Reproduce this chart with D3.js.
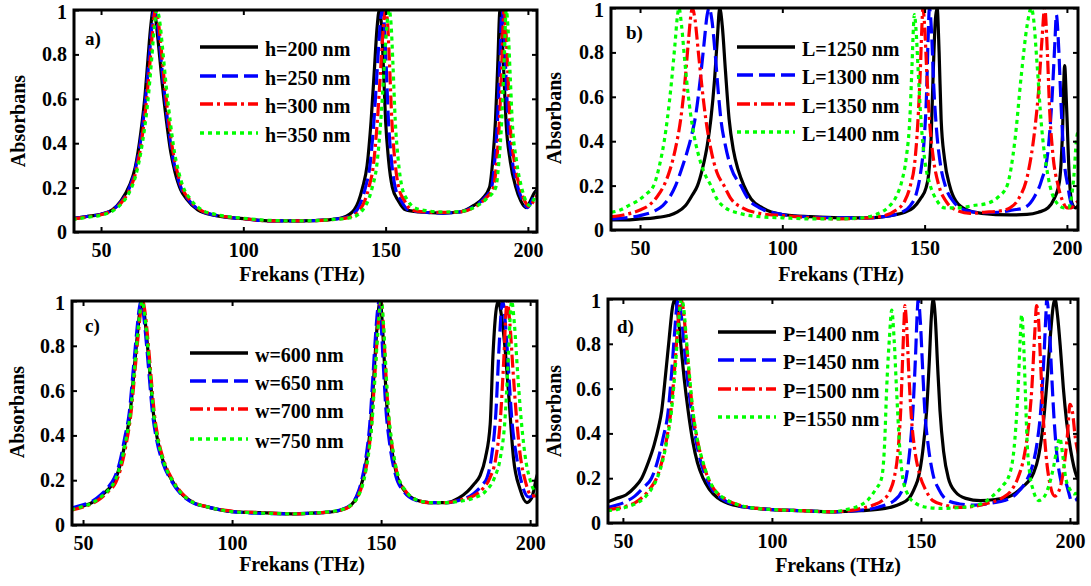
<!DOCTYPE html>
<html>
<head>
<meta charset="utf-8">
<script src="https://cdn.jsdelivr.net/npm/d3@7"></script>
<style>
  body { margin: 0; background: #fff; }
  svg { display: block; font-family: "Liberation Serif", "Times New Roman", serif; font-weight: bold; }
</style>
</head>
<body>
<div id="chart"></div>
<script>
// Tick values / labels
var xTicks = [50, 100, 150, 200];
var yTicks = [0, 0.2, 0.4, 0.6, 0.8, 1];

// Legend labels per panel
var hNames = ["h=200 nm", "h=250 nm", "h=300 nm", "h=350 nm"];
var lNames = ["L=1250 nm", "L=1300 nm", "L=1350 nm", "L=1400 nm"];
var wNames = ["w=600 nm", "w=650 nm", "w=700 nm", "w=750 nm"];
var pNames = ["P=1400 nm", "P=1450 nm", "P=1500 nm", "P=1550 nm"];

// a) thickness h  [THz, absorbance]
var h200 = [[40,0.06],[45,0.07],[50,0.08],[54,0.1],[57,0.14],[60,0.21],[62,0.29],[64,0.45],[65.5,0.62],[66.5,0.78],[67.5,0.93],[68.3,1],[69.2,0.96],[70.3,0.83],[71.5,0.67],[73,0.5],[74.5,0.36],[76,0.27],[78,0.19],[80,0.15],[84,0.1],[90,0.075],[100,0.06],[110,0.05],[120,0.05],[130,0.055],[135,0.065],[139,0.1],[141.9,0.2],[143.5,0.3],[144.9,0.5],[146,0.72],[147,0.92],[147.8,1],[148.5,0.94],[149.2,0.75],[150,0.5],[151,0.33],[152.4,0.2],[154.5,0.14],[157,0.1],[162,0.09],[170,0.085],[176,0.09],[181,0.12],[184,0.15],[186.5,0.2],[187.7,0.33],[188.6,0.5],[189.4,0.75],[190.2,1],[190.9,0.9],[191.6,0.7],[192.3,0.5],[193.8,0.32],[195.8,0.2],[197.5,0.14],[199.3,0.11],[200.5,0.13],[202.2,0.175],[204,0.2]];
var h250 = [[40,0.06],[45,0.07],[50,0.08],[54,0.1],[57,0.135],[60,0.2],[62,0.28],[64,0.42],[65.8,0.62],[66.9,0.78],[67.9,0.93],[68.7,1],[69.6,0.96],[70.7,0.83],[71.9,0.67],[73.4,0.5],[74.9,0.36],[76.4,0.27],[78.4,0.19],[80.4,0.15],[84.4,0.1],[90,0.076],[100,0.06],[110,0.05],[120,0.05],[130,0.055],[136,0.065],[140,0.1],[142.9,0.2],[144.5,0.3],[145.9,0.5],[147,0.72],[148,0.92],[148.8,1],[149.5,0.94],[150.2,0.75],[151,0.5],[152,0.33],[153.4,0.2],[155.5,0.14],[158,0.1],[163,0.09],[170,0.085],[176,0.09],[181,0.115],[184.5,0.15],[187.2,0.2],[188.4,0.33],[189.3,0.5],[190.1,0.75],[190.9,1],[191.6,0.9],[192.3,0.7],[193,0.5],[194.5,0.32],[196.5,0.2],[198.2,0.14],[199.8,0.11],[201,0.13],[202.5,0.17],[204,0.19]];
var h300 = [[40,0.058],[45,0.068],[50,0.078],[54,0.097],[57,0.13],[60,0.19],[62,0.26],[64,0.39],[66.2,0.62],[67.3,0.78],[68.3,0.93],[69.1,1],[70,0.96],[71.1,0.83],[72.3,0.67],[73.8,0.5],[75.3,0.36],[76.8,0.27],[78.8,0.19],[80.8,0.15],[84.8,0.1],[90,0.078],[100,0.06],[110,0.05],[120,0.05],[130,0.055],[137,0.065],[141,0.1],[144.1,0.2],[145.7,0.3],[147.1,0.5],[148.2,0.72],[149.2,0.92],[150,1],[150.7,0.94],[151.4,0.75],[152.2,0.5],[153.2,0.33],[154.6,0.2],[156.7,0.14],[159,0.1],[164,0.09],[170,0.088],[176,0.09],[181,0.11],[185,0.15],[187.9,0.2],[189.1,0.33],[190,0.5],[190.8,0.75],[191.6,1],[192.3,0.9],[193,0.7],[193.7,0.5],[195.2,0.32],[197.2,0.2],[198.9,0.14],[200.4,0.115],[201.5,0.13],[203,0.16],[204,0.18]];
var h350 = [[40,0.056],[45,0.066],[50,0.076],[54,0.094],[57,0.125],[60,0.18],[62,0.245],[64,0.36],[66.7,0.62],[67.8,0.78],[68.8,0.93],[69.6,1],[70.5,0.96],[71.6,0.83],[72.8,0.67],[74.3,0.5],[75.8,0.36],[77.3,0.27],[79.3,0.19],[81.3,0.15],[85.3,0.1],[90,0.08],[100,0.062],[110,0.052],[120,0.05],[130,0.055],[138,0.065],[142,0.1],[145.3,0.2],[146.9,0.3],[148.3,0.5],[149.4,0.72],[150.4,0.92],[151.2,1],[151.9,0.94],[152.6,0.75],[153.4,0.5],[154.4,0.33],[155.8,0.2],[157.9,0.14],[160,0.11],[165,0.095],[170,0.09],[176,0.092],[181,0.11],[185.5,0.15],[188.7,0.2],[189.9,0.33],[190.8,0.5],[191.6,0.75],[192.4,1],[193.1,0.9],[193.8,0.7],[194.5,0.5],[196,0.32],[197.8,0.2],[199.3,0.14],[200.6,0.12],[201.8,0.14],[203,0.17],[204,0.18]];

// b) length L
var l1250 = [[40,0.045],[45,0.045],[50,0.05],[55,0.055],[60,0.065],[63,0.08],[66,0.11],[68.5,0.16],[70.2,0.2],[72,0.28],[73.6,0.38],[74.9,0.5],[76.2,0.68],[77.2,0.87],[78,1],[78.9,0.92],[80,0.72],[81.3,0.5],[82.8,0.36],[84.5,0.27],[86.5,0.2],[89,0.14],[93,0.1],[100,0.07],[110,0.06],[120,0.055],[130,0.055],[138,0.065],[143,0.08],[146,0.1],[148.5,0.14],[150.5,0.19],[151.5,0.26],[152.3,0.42],[153,0.7],[153.8,0.95],[154.4,1],[155.1,0.8],[155.8,0.5],[157,0.32],[158.8,0.2],[161,0.13],[165,0.09],[170,0.075],[180,0.068],[186,0.07],[190,0.08],[193.4,0.1],[195.5,0.14],[197.4,0.22],[198.4,0.42],[199.2,0.74],[199.9,0.55],[200.8,0.25],[201.8,0.12],[203,0.1],[204,0.11]];
var l1300 = [[40,0.05],[45,0.055],[50,0.065],[55,0.085],[58,0.11],[60.5,0.15],[62.5,0.2],[64.5,0.27],[66.5,0.35],[68,0.42],[69.6,0.52],[71,0.66],[72.5,0.84],[73.6,0.97],[74.3,1],[75.2,0.95],[76.5,0.78],[77.5,0.62],[78.4,0.5],[80,0.38],[82,0.28],[85.4,0.2],[88,0.14],[92,0.1],[100,0.07],[110,0.058],[120,0.055],[130,0.055],[138,0.065],[142,0.08],[145,0.11],[147,0.16],[148.5,0.25],[149.8,0.4],[150.7,0.62],[151.2,0.85],[151.7,1],[152.4,0.9],[153.2,0.65],[154.2,0.45],[155.5,0.3],[157.5,0.19],[160,0.13],[164,0.09],[170,0.078],[176,0.08],[181,0.09],[185,0.1],[188.6,0.15],[191,0.22],[193.4,0.36],[194.8,0.6],[195.8,0.85],[196.3,0.97],[197,0.85],[198,0.55],[199,0.32],[200.3,0.2],[201.5,0.12],[203,0.1],[204,0.1]];
var l1350 = [[40,0.06],[45,0.07],[50,0.09],[53,0.11],[56,0.15],[58.4,0.2],[60.5,0.27],[62.5,0.37],[64.3,0.5],[65.8,0.67],[67,0.85],[68,0.98],[68.4,1],[69.3,0.95],[70.5,0.8],[71.8,0.64],[73.1,0.5],[74.8,0.37],[77,0.26],[79.5,0.2],[82,0.14],[86,0.1],[92,0.075],[100,0.065],[110,0.055],[120,0.05],[130,0.055],[136,0.065],[140,0.09],[143,0.13],[145,0.2],[146.5,0.3],[147.6,0.48],[148.5,0.72],[149,0.9],[149.4,1],[150,0.92],[150.8,0.7],[151.8,0.48],[153,0.33],[155,0.2],[157.5,0.13],[161,0.09],[166,0.075],[171,0.08],[176,0.085],[180,0.1],[183,0.14],[186.4,0.26],[188.6,0.44],[190,0.62],[191.2,0.85],[192.2,1],[193.2,0.78],[193.9,0.55],[195,0.35],[196.9,0.2],[198.5,0.13],[200,0.1],[201.5,0.1],[203,0.12],[204,0.13]];
var l1400 = [[40,0.08],[43,0.09],[46,0.11],[49,0.13],[52,0.16],[54.8,0.2],[57,0.3],[58.5,0.4],[59.6,0.5],[61,0.66],[62.3,0.84],[63.2,0.97],[63.7,1],[64.6,0.92],[65.8,0.75],[67,0.6],[68.5,0.46],[70.5,0.34],[72.5,0.26],[74.9,0.2],[77,0.14],[80,0.1],[85,0.075],[92,0.06],[100,0.055],[110,0.05],[120,0.05],[128,0.055],[133,0.07],[137,0.1],[140,0.15],[142,0.22],[143.6,0.33],[144.8,0.5],[145.6,0.75],[146.1,0.92],[146.4,0.97],[147,0.9],[147.8,0.7],[148.8,0.48],[150,0.32],[152,0.2],[154,0.14],[157,0.1],[162,0.1],[167,0.11],[172,0.12],[176,0.15],[179,0.2],[181.7,0.4],[184,0.7],[186,0.92],[187.5,1],[188.3,0.95],[189.5,0.75],[191,0.48],[193.4,0.24],[196,0.13],[199,0.1],[200.5,0.1],[201.5,0.14],[202.5,0.25],[203.3,0.4],[204,0.45]];

// c) width w
var w600 = [[46,0.07],[50,0.085],[53,0.1],[56,0.13],[58.5,0.16],[60.7,0.2],[62.5,0.27],[64.3,0.38],[65.8,0.5],[67.2,0.7],[68.3,0.86],[69.2,0.97],[69.7,1],[70.5,0.95],[71.5,0.82],[72.6,0.65],[73.6,0.5],[75,0.38],[77,0.28],[79.8,0.2],[83,0.14],[87,0.1],[92,0.08],[100,0.06],[110,0.055],[120,0.05],[130,0.055],[136,0.065],[140,0.09],[142,0.13],[143.8,0.2],[145.2,0.3],[146.5,0.45],[147.5,0.65],[148.5,0.86],[149.3,0.98],[149.7,1],[150.4,0.9],[151.2,0.7],[152,0.52],[153.3,0.36],[155.3,0.22],[158,0.15],[162,0.11],[166,0.1],[172,0.1],[176,0.12],[179,0.15],[181,0.18],[183.2,0.22],[185,0.3],[186.6,0.45],[187.5,0.75],[188.5,0.95],[189.3,1],[190.2,0.95],[191.5,0.8],[192.7,0.6],[194.4,0.3],[196.6,0.16],[198.9,0.1],[200.5,0.12],[202.3,0.22],[203.5,0.26]];
var w650 = [[46,0.075],[50,0.09],[53,0.105],[56,0.135],[58.5,0.17],[60.5,0.21],[62.3,0.28],[64,0.39],[65.5,0.5],[66.9,0.7],[68,0.86],[68.9,0.97],[69.4,1],[70.2,0.95],[71.2,0.82],[72.3,0.65],[73.3,0.5],[74.7,0.38],[76.7,0.28],[79.5,0.2],[82.7,0.14],[86.7,0.1],[92,0.08],[100,0.06],[110,0.052],[120,0.05],[130,0.055],[136,0.066],[140,0.092],[141.8,0.13],[143.5,0.2],[144.9,0.3],[146.2,0.45],[147.2,0.65],[148.2,0.86],[149,0.98],[149.3,1],[150,0.9],[150.8,0.7],[151.6,0.52],[152.9,0.36],[154.9,0.22],[157.6,0.15],[161.6,0.11],[166,0.1],[172,0.1],[176,0.11],[181,0.14],[184,0.18],[185.5,0.21],[187,0.3],[188.5,0.5],[189.6,0.8],[190.4,0.97],[190.8,1],[191.7,0.9],[192.8,0.68],[193.8,0.48],[195.5,0.3],[197.3,0.18],[199.5,0.125],[201,0.13],[203.5,0.15]];
var w700 = [[46,0.065],[50,0.08],[53,0.095],[56,0.12],[58.5,0.15],[61,0.19],[62.8,0.26],[64.6,0.37],[66.1,0.5],[67.5,0.7],[68.6,0.86],[69.5,0.97],[70,1],[70.8,0.95],[71.8,0.82],[72.9,0.65],[73.9,0.5],[75.3,0.38],[77.3,0.28],[80.1,0.2],[83.3,0.14],[87.3,0.1],[92,0.08],[100,0.062],[110,0.055],[120,0.05],[130,0.055],[136,0.064],[140,0.088],[142.3,0.13],[144.1,0.2],[145.5,0.3],[146.8,0.45],[147.8,0.65],[148.8,0.86],[149.6,0.98],[150,1],[150.7,0.9],[151.5,0.7],[152.3,0.52],[153.6,0.36],[155.6,0.22],[158.3,0.15],[162.3,0.11],[166,0.1],[172,0.1],[176,0.11],[181,0.13],[184,0.16],[186.5,0.21],[188.5,0.3],[190,0.47],[191.2,0.75],[192,0.97],[192.3,1],[193.2,0.9],[194.2,0.7],[195.3,0.5],[196.6,0.32],[198.5,0.19],[200.5,0.13],[202,0.13],[203.5,0.15]];
var w750 = [[46,0.068],[50,0.083],[53,0.098],[56,0.125],[58.5,0.155],[60.8,0.2],[62.6,0.27],[64.4,0.38],[65.9,0.5],[67.3,0.7],[68.4,0.86],[69.3,0.97],[69.8,1],[70.6,0.95],[71.6,0.82],[72.7,0.65],[73.7,0.5],[75.1,0.38],[77.1,0.28],[79.9,0.2],[83.1,0.14],[87.1,0.1],[92,0.08],[100,0.06],[110,0.053],[120,0.05],[130,0.056],[136,0.066],[140,0.09],[142.4,0.13],[144.2,0.2],[145.6,0.3],[146.9,0.45],[147.9,0.65],[148.9,0.86],[149.7,0.98],[150.1,1],[150.8,0.9],[151.6,0.7],[152.4,0.52],[153.7,0.36],[155.7,0.22],[158.4,0.15],[162.4,0.11],[167,0.1],[172,0.1],[176,0.105],[181,0.12],[185,0.15],[188,0.21],[190,0.3],[191.5,0.46],[192.7,0.75],[193.5,0.97],[193.8,1],[194.7,0.9],[195.7,0.7],[196.8,0.5],[198.2,0.32],[200,0.2],[201.5,0.15],[203.5,0.13]];

// d) period P
var p1400 = [[45,0.095],[48,0.11],[51,0.125],[54,0.16],[56.3,0.2],[58.5,0.27],[60.5,0.35],[62,0.43],[63,0.5],[64.3,0.66],[65.5,0.82],[66.6,0.96],[67.4,1],[68.3,0.95],[69.4,0.8],[70.6,0.64],[71.9,0.5],[73.5,0.36],[75,0.27],[76.9,0.2],[79,0.15],[82,0.11],[87,0.08],[95,0.065],[100,0.06],[110,0.055],[120,0.05],[130,0.055],[138,0.065],[143,0.085],[146,0.11],[148,0.16],[149.1,0.2],[150.6,0.32],[151.9,0.5],[152.8,0.72],[153.5,0.92],[154.1,1],[154.8,0.92],[155.6,0.7],[156.4,0.5],[157.6,0.32],[159.2,0.2],[161.5,0.14],[165,0.11],[170,0.1],[175,0.105],[180,0.12],[184,0.16],[187.7,0.22],[189.5,0.3],[191.1,0.45],[192.4,0.65],[193.4,0.83],[194.4,0.97],[195,1],[195.8,0.93],[196.8,0.78],[197.8,0.6],[198.9,0.45],[200.3,0.32],[202.2,0.21],[203,0.19]];
var p1450 = [[45,0.07],[48,0.08],[51,0.095],[54,0.12],[57,0.16],[59.6,0.2],[61.5,0.27],[63.5,0.38],[65.2,0.5],[66.4,0.68],[67.4,0.86],[68.2,0.98],[68.6,1],[69.4,0.95],[70.5,0.8],[71.7,0.64],[73,0.5],[74.5,0.37],[76,0.28],[78,0.2],[80,0.15],[83,0.11],[88,0.08],[95,0.065],[100,0.06],[110,0.055],[120,0.05],[128,0.055],[134,0.065],[138,0.08],[141,0.1],[143.5,0.14],[145,0.2],[146.3,0.33],[147.3,0.5],[148.2,0.75],[148.8,0.95],[149.1,1],[149.8,0.9],[150.6,0.68],[151.3,0.5],[152.5,0.34],[154,0.22],[156,0.15],[159,0.1],[163,0.085],[168,0.08],[174,0.09],[178,0.1],[182,0.13],[185,0.18],[187.3,0.25],[189,0.36],[190.3,0.52],[191.3,0.75],[192,0.95],[192.2,1],[193,0.9],[193.8,0.68],[194.6,0.48],[195.5,0.32],[196.5,0.22],[197.5,0.17],[198.5,0.18],[199.5,0.14],[200.5,0.1],[201.5,0.1],[203,0.12]];
var p1500 = [[45,0.06],[48,0.065],[51,0.075],[54,0.09],[57,0.12],[59.5,0.16],[61.3,0.2],[63,0.27],[64.6,0.37],[66.1,0.5],[67.3,0.68],[68.3,0.86],[69.1,0.98],[69.5,1],[70.2,0.96],[71.2,0.82],[72.3,0.65],[73.4,0.5],[75,0.37],[76.6,0.28],[78.6,0.2],[80.6,0.15],[84,0.11],[89,0.08],[95,0.065],[100,0.06],[110,0.055],[120,0.05],[126,0.055],[130,0.065],[134,0.08],[137,0.1],[139.5,0.14],[141,0.2],[142.3,0.32],[143.2,0.5],[143.9,0.75],[144.4,0.92],[144.6,0.97],[145.2,0.88],[146,0.65],[146.8,0.47],[148,0.32],[149.5,0.22],[151.5,0.15],[154,0.1],[158,0.08],[163,0.07],[168,0.075],[173,0.09],[177,0.11],[180,0.14],[182.5,0.2],[184.5,0.29],[186,0.42],[187.2,0.6],[188.2,0.85],[188.8,0.97],[189.4,0.92],[190.2,0.7],[191,0.48],[192,0.3],[193.2,0.18],[194.9,0.12],[196.5,0.15],[198,0.25],[199.2,0.4],[200,0.53],[200.8,0.5],[201.8,0.38],[203,0.3]];
var p1550 = [[45,0.055],[48,0.06],[51,0.07],[54,0.085],[57,0.11],[59.5,0.15],[61.5,0.2],[63.2,0.27],[64.8,0.37],[66.3,0.5],[67.5,0.68],[68.5,0.86],[69.3,0.98],[69.7,1],[70.4,0.96],[71.3,0.82],[72.4,0.65],[73.5,0.5],[75,0.37],[76.7,0.28],[78.7,0.2],[80.7,0.15],[84,0.11],[89,0.08],[95,0.065],[100,0.06],[110,0.055],[120,0.05],[125,0.06],[129,0.075],[132,0.1],[134.8,0.15],[136.8,0.2],[137.8,0.35],[138.5,0.6],[139.4,0.82],[140.2,0.95],[141,0.82],[141.8,0.6],[142.8,0.35],[143.9,0.2],[145.5,0.13],[148,0.09],[152,0.07],[157,0.065],[162,0.068],[167,0.075],[171,0.09],[174,0.12],[177,0.16],[179.8,0.22],[181.5,0.37],[182.6,0.6],[183.3,0.82],[183.8,0.93],[184.4,0.82],[185,0.6],[185.6,0.37],[186.5,0.22],[187.6,0.15],[189.5,0.1],[191.5,0.12],[193,0.17],[194.5,0.25],[195.6,0.33],[196.6,0.38],[197.6,0.3],[198.6,0.2],[200,0.15],[201.5,0.13],[203,0.14]];

// line styles shared by all four panels
var colors = ["#000000", "#0000ff", "#ff0000", "#00ff00"];
var dashes = [null, "16,6", "13,4,3,4", "4,4"];

var svg = d3.select("#chart").append("svg")
  .attr("width", 1091)
  .attr("height", 586);

// layout of each sub plot (pixel box + axis range)
var panels = [
  { key: "a", tag: "a)", series: [h200, h250, h300, h350], names: hNames,
    left: 74, right: 537, top: 10, bottom: 232, xDomain: [40.5, 203.2],
    tagPos: [85, 45], legX: 200, legY: [47, 76, 104, 133], yTitleX: 25, yTitleY: 121, xTitleX: 302, xTitleY: 281 },
  { key: "b", tag: "b)", series: [l1250, l1300, l1350, l1400], names: lNames,
    left: 611, right: 1078, top: 8, bottom: 230, xDomain: [39.8, 203.9],
    tagPos: [626, 39], legX: 737, legY: [47, 75, 104, 132], yTitleX: 561, yTitleY: 118, xTitleX: 841, xTitleY: 281 },
  { key: "c", tag: "c)", series: [w600, w650, w700, w750], names: wNames,
    left: 72, right: 537, top: 301, bottom: 525, xDomain: [46.3, 202.3],
    tagPos: [85, 332], legX: 190, legY: [353, 381, 409, 439], yTitleX: 24, yTitleY: 412, xTitleX: 302, xTitleY: 571 },
  { key: "d", tag: "d)", series: [p1400, p1450, p1500, p1550], names: pNames,
    left: 608, right: 1078, top: 299, bottom: 523, xDomain: [45, 202.7],
    tagPos: [617, 333], legX: 718, legY: [332, 360, 389, 417], yTitleX: 561, yTitleY: 411, xTitleX: 838, xTitleY: 572 }
];

panels.forEach(function(p) {
  var x = d3.scaleLinear().domain(p.xDomain).range([p.left, p.right]);
  var y = d3.scaleLinear().domain([0, 1]).range([p.bottom, p.top]);

  var g = svg.append("g");

  // clip curves to the box
  g.append("clipPath").attr("id", "clip-" + p.key)
    .append("rect")
    .attr("x", p.left).attr("y", p.top)
    .attr("width", p.right - p.left).attr("height", p.bottom - p.top);

  var line = d3.line()
    .x(d => x(d[0]))
    .y(d => y(d[1]))
    .curve(d3.curveMonotoneX);

  g.append("g").attr("clip-path", "url(#clip-" + p.key + ")")
    .selectAll("path")
    .data(p.series)
    .enter()
    .append("path")
    .attr("d", line)
    .attr("fill", "none")
    .attr("stroke", (d, i) => colors[i])
    .attr("stroke-width", 3.2)
    .attr("stroke-dasharray", (d, i) => dashes[i])
    .attr("stroke-linejoin", "round");

  // axes with inward ticks on all four sides
  var fmtY = d => (d === 0 || d === 1) ? String(d) : d.toFixed(1);

  g.append("g")
    .attr("transform", `translate(0, ${p.bottom})`)
    .call(d3.axisBottom(x).tickValues(xTicks).tickSizeInner(-5).tickSizeOuter(0).tickPadding(11));
  var leftAxis = g.append("g")
    .attr("transform", `translate(${p.left}, 0)`)
    .call(d3.axisLeft(y).tickValues(yTicks).tickFormat(fmtY).tickSizeInner(-5).tickSizeOuter(0).tickPadding(7));
  g.append("g")
    .attr("transform", `translate(0, ${p.top})`)
    .call(d3.axisTop(x).tickValues(xTicks).tickFormat("").tickSizeInner(-5).tickSizeOuter(0));
  g.append("g")
    .attr("transform", `translate(${p.right}, 0)`)
    .call(d3.axisRight(y).tickValues(yTicks).tickFormat("").tickSizeInner(-5).tickSizeOuter(0));

  g.selectAll(".domain").remove();
  g.selectAll(".tick line").attr("stroke", "#000").attr("stroke-width", 2);
  g.selectAll(".tick text")
    .attr("font-size", 20)
    .attr("font-family", "Liberation Serif, Times New Roman, serif")
    .attr("font-weight", "bold")
    .attr("fill", "#000");
  // keep the top "1" inside the page
  leftAxis.selectAll(".tick text").filter(d => d === 1).attr("dy", "0.42em");

  // frame
  g.append("rect")
    .attr("x", p.left).attr("y", p.top)
    .attr("width", p.right - p.left).attr("height", p.bottom - p.top)
    .attr("fill", "none")
    .attr("stroke", "#000")
    .attr("stroke-width", 3);

  // axis titles
  g.append("text")
    .attr("transform", `translate(${p.yTitleX}, ${p.yTitleY}) rotate(-90)`)
    .attr("text-anchor", "middle")
    .attr("font-size", 20)
    .text("Absorbans");

  g.append("text")
    .attr("x", p.xTitleX)
    .attr("y", p.xTitleY)
    .attr("text-anchor", "middle")
    .attr("font-size", 20)
    .text("Frekans (THz)");

  // panel tag
  g.append("text")
    .attr("x", p.tagPos[0])
    .attr("y", p.tagPos[1])
    .attr("font-size", 19)
    .text(p.tag);

  // legend
  var leg = g.append("g");
  p.names.forEach(function(name, i) {
    leg.append("line")
      .attr("x1", p.legX).attr("x2", p.legX + 58)
      .attr("y1", p.legY[i]).attr("y2", p.legY[i])
      .attr("stroke", colors[i])
      .attr("stroke-width", 3.5)
      .attr("stroke-dasharray", dashes[i]);
    leg.append("text")
      .attr("x", p.legX + 65)
      .attr("y", p.legY[i] + 9)
      .attr("font-size", 20)
      .text(name);
  });
});
</script>
</body>
</html>
